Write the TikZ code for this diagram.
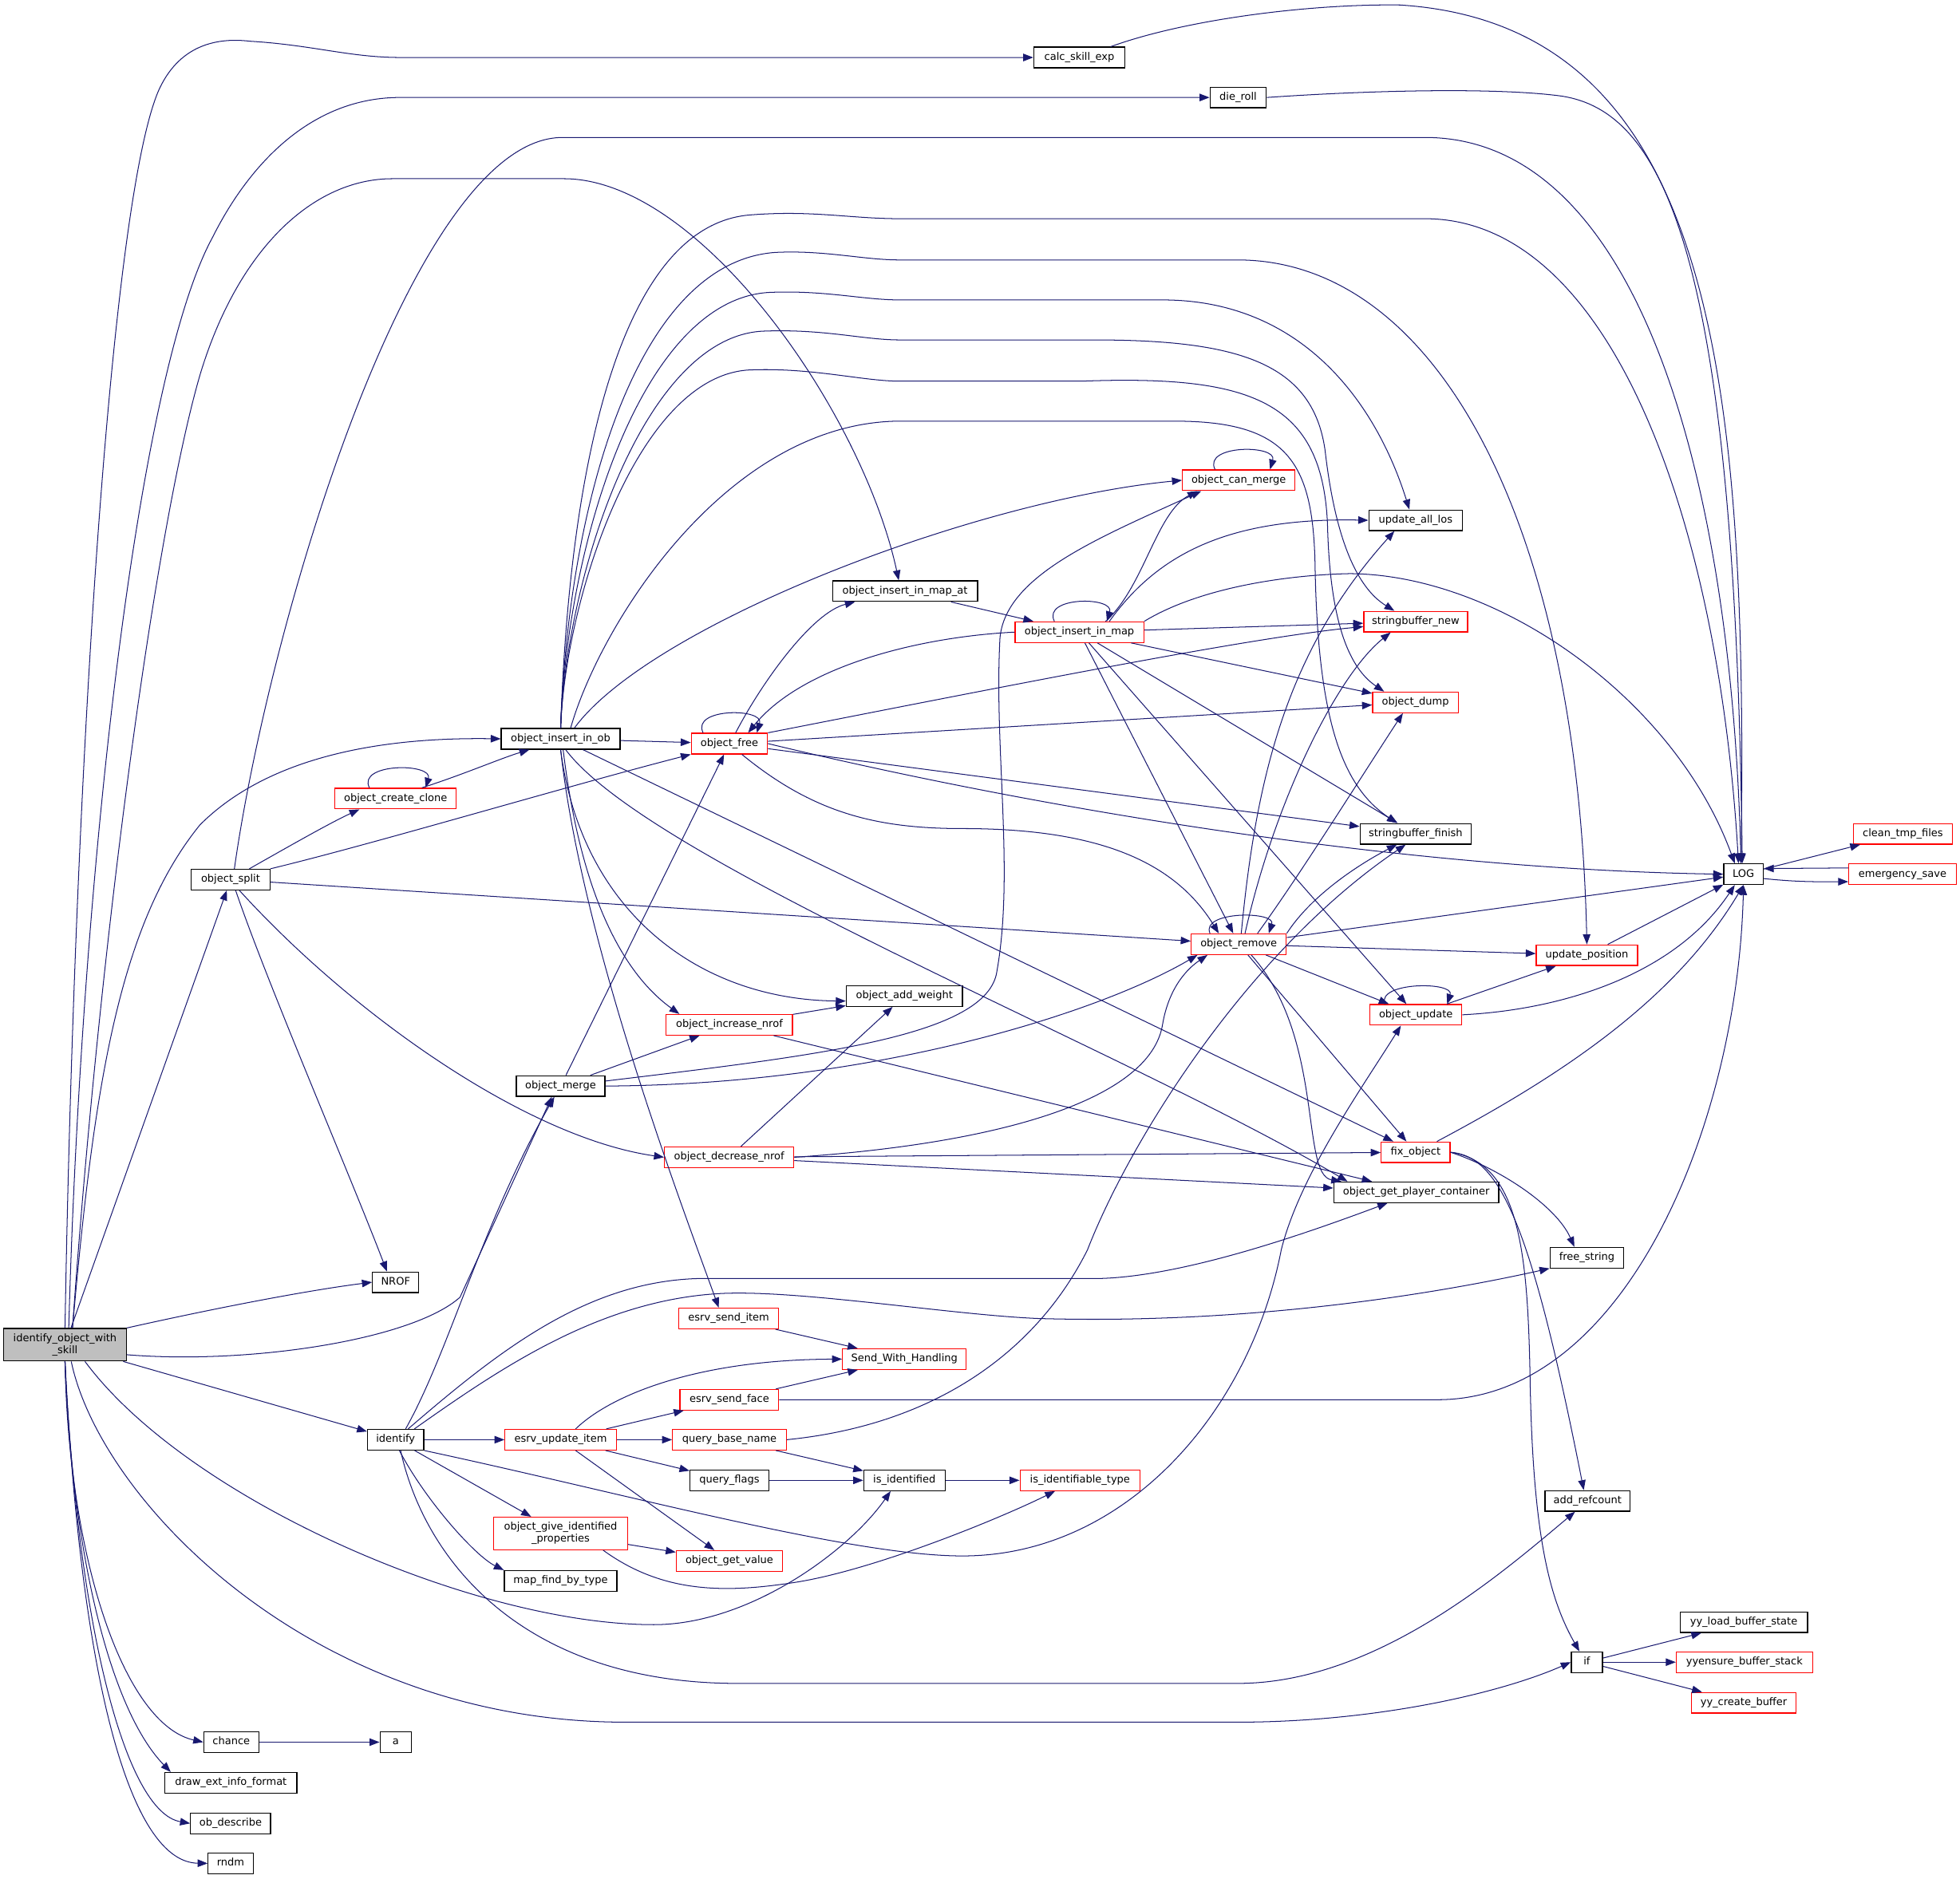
\documentclass[tikz,border=0pt]{standalone}
\usepackage{fontspec}
\setmainfont{DejaVu Sans}
\usetikzlibrary{arrows.meta}
\definecolor{callblue}{HTML}{191970}

\begin{document}
\begin{tikzpicture}[x=1pt,y=-1pt,
    fn/.style={draw=black,line width=0.8pt,fill=white,minimum height=16.5pt,inner sep=0pt,
      font=\fontsize{8.3}{9.8}\selectfont,text height=6.2pt,text depth=1.8pt},
    fnred/.style={fn,draw=red},
    fntwo/.style={draw=black,line width=0.8pt,fill=white,minimum height=26pt,inner sep=0pt,
      font=\fontsize{8.3}{9.8}\selectfont,align=center},
    calls/.style={draw=callblue,line width=0.65pt,-{Triangle[length=8pt,width=6pt]}}]
    \useasboundingbox (0,0) rectangle (1568,1503);
    \fill[white] (0,0) rectangle (1568,1503);

    \node[fntwo,fill=black!25,minimum width=98pt] (main) at (52,1076) {identify\_object\_with\\\_skill};
    \node[fn,minimum width=73pt] (calc) at (863.5,46) {calc\_skill\_exp};
    \node[fn,minimum width=45pt] (dieroll) at (990.5,78) {die\_roll};
    \node[fnred,minimum width=90pt] (canmerge) at (991,384.3) {object\_can\_merge};
    \node[fn,minimum width=116pt] (inmapat) at (724,473) {object\_insert\_in\_map\_at};
    \node[fnred,minimum width=103pt] (inmap) at (863.5,505.8) {object\_insert\_in\_map};
    \node[fn,minimum width=75pt] (allos) at (1132.5,416.3) {update\_all\_los};
    \node[fnred,minimum width=83pt] (sbnew) at (1132.5,497.4) {stringbuffer\_new};
    \node[fnred,minimum width=68.5pt] (dump) at (1132.3,562) {object\_dump};
    \node[fn,minimum width=95pt] (inob) at (448.5,591.2) {object\_insert\_in\_ob};
    \node[fnred,minimum width=61pt] (free) at (583.5,595) {object\_free};
    \node[fnred,minimum width=97pt] (clone) at (316.5,639) {object\_create\_clone};
    \node[fn,minimum width=89pt] (sbfinish) at (1132.5,667.2) {stringbuffer\_finish};
    \node[fnred,minimum width=79.4pt] (cleantmp) at (1522.3,667.2) {clean\_tmp\_files};
    \node[fn,minimum width=31.6pt] (LOG) at (1394.8,699.5) {LOG};
    \node[fnred,minimum width=86pt] (emsave) at (1522,699.5) {emergency\_save};
    \node[fn,minimum width=63pt] (split) at (184.5,703.8) {object\_split};
    \node[fnred,minimum width=76pt] (remove) at (991,755.5) {object\_remove};
    \node[fnred,minimum width=81pt] (updpos) at (1269.5,764.3) {update\_position};
    \node[fn,minimum width=93pt] (addw) at (723.5,797) {object\_add\_weight};
    \node[fnred,minimum width=73.5pt] (update) at (1132.7,812) {object\_update};
    \node[fnred,minimum width=101pt] (incnrof) at (583.5,820) {object\_increase\_nrof};
    \node[fn,minimum width=71pt] (merge) at (448.5,869) {object\_merge};
    \node[fnred,minimum width=55pt] (fixobj) at (1132.5,922) {fix\_object};
    \node[fnred,minimum width=103.4pt] (decnrof) at (583.3,926) {object\_decrease\_nrof};
    \node[fn,minimum width=132pt] (getpc) at (1133,954) {object\_get\_player\_container};
    \node[fn,minimum width=59pt] (freestr) at (1269.5,1006.3) {free\_string};
    \node[fn,minimum width=37pt] (NROF) at (316.5,1026) {NROF};
    \node[fnred,minimum width=80pt] (senditem) at (583,1055) {esrv\_send\_item};
    \node[fnred,minimum width=99pt] (swh) at (723.5,1087.5) {Send\_With\_Handling};
    \node[fnred,minimum width=79pt] (sendface) at (583.5,1120) {esrv\_send\_face};
    \node[fn,minimum width=45pt] (identify) at (316.5,1152) {identify};
    \node[fnred,minimum width=89pt] (updateitem) at (448.5,1152) {esrv\_update\_item};
    \node[fnred,minimum width=91pt] (basename) at (583.5,1152) {query\_base\_name};
    \node[fn,minimum width=63pt] (qflags) at (583.5,1184.5) {query\_flags};
    \node[fn,minimum width=65pt] (isid) at (723.5,1184.5) {is\_identified};
    \node[fnred,minimum width=96pt] (isidtype) at (864,1184.5) {is\_identifiable\_type};
    \node[fn,minimum width=68pt] (addref) at (1270,1201) {add\_refcount};
    \node[fntwo,draw=red,minimum width=107pt] (giveprops) at (448.5,1227) {object\_give\_identified\\\_properties};
    \node[fnred,minimum width=85pt] (getvalue) at (583.5,1249) {object\_get\_value};
    \node[fn,minimum width=90pt] (mapfind) at (448.5,1265) {map\_find\_by\_type};
    \node[fn,minimum width=102pt] (yyload) at (1395,1298) {yy\_load\_buffer\_state};
    \node[fn,minimum width=25pt] (if) at (1269.5,1330) {if};
    \node[fnred,minimum width=109pt] (yyensure) at (1395.5,1330) {yyensure\_buffer\_stack};
    \node[fnred,minimum width=84pt] (yycreate) at (1395,1362.5) {yy\_create\_buffer};
    \node[fn,minimum width=44pt] (chance) at (185,1394) {chance};
    \node[fn,minimum width=25pt] (a) at (316.5,1394) {a};
    \node[fn,minimum width=105.5pt] (drawext) at (184.7,1426.5) {draw\_ext\_info\_format};
    \node[fn,minimum width=64pt] (obdescribe) at (184.5,1459) {ob\_describe};
    \node[fn,minimum width=36pt] (rndm) at (184.5,1491) {rndm};

    \draw[calls] (main.north) .. controls (60,600) and (90,150) .. (128,70) .. controls (145,35) and (175,30) .. (200,33) .. controls (250,36) and (280,46) .. (320,46) -- (calc);
    \draw[calls] ([xshift=3pt]main.north) .. controls (65,700) and (110,300) .. (170,190) .. controls (200,130) and (250,78) .. (320,78) -- (dieroll);
    \draw[calls] ([xshift=6pt]main.north) .. controls (80,750) and (125,420) .. (160,300) .. controls (190,200) and (250,143) .. (314,143) -- (451,143) .. controls (560,143) and (690,330) .. ([xshift=-5pt]inmapat.north);
    \draw[calls] ([xshift=6pt]main.north) .. controls (75,870) and (95,740) .. (160,660) .. controls (220,600) and (320,590) .. (inob.west);
    \draw[calls] (main) -- (split);
    \draw[calls] (main.north east) .. controls (180,1045) and (250,1032) .. (NROF.west);
    \draw[calls] ([yshift=-8pt]main.east) .. controls (200,1092) and (330,1072) .. (368,1038) -- ([xshift=-7pt]merge.south);
    \draw[calls] (main) -- (identify);
    \draw[calls] ([xshift=16pt]main.south) .. controls (150,1200) and (380,1300) .. (523,1300) .. controls (600,1300) and (680,1240) .. ([xshift=-11pt]isid.south);
    \draw[calls] ([xshift=5pt]main.south) .. controls (80,1200) and (250,1378) .. (500,1378) -- (990,1378) .. controls (1100,1378) and (1200,1355) .. (if.west);
    \draw[calls] (main.south) .. controls (55,1250) and (100,1380) .. (chance.west);
    \draw[calls] (main.south) .. controls (58,1250) and (90,1370) .. ([xshift=5pt]drawext.north west);
    \draw[calls] (main.south) .. controls (62,1300) and (100,1450) .. (obdescribe.west);
    \draw[calls] (main.south) .. controls (65,1350) and (105,1490) .. (rndm.west);
    \draw[calls] (chance) -- (a);

    \draw[calls] ([xshift=3pt]split.north) .. controls (215,500) and (330,110) .. (450,110) -- (1140,110) .. controls (1310,110) and (1385,380) .. ([xshift=-2pt]LOG.north);
    \draw[calls] ([xshift=15pt]split.north) .. controls (235,675) and (265,658) .. ([xshift=-29pt]clone.south);
    \draw[calls] (split.north east) .. controls (300,675) and (450,630) .. (free.south west);
    \draw[calls] (split) -- (remove);
    \draw[calls] ([xshift=7pt]split.south) .. controls (280,810) and (420,910) .. (decnrof.west);
    \draw[calls] ([xshift=4pt]split.south) .. controls (215,790) and (280,940) .. ([xshift=-7pt]NROF.north);

    \draw[calls] ([xshift=-21pt]clone.north) .. controls +(-10,-20) and +(6,-20) .. ([xshift=24pt]clone.north);
    \draw[calls] ([xshift=21pt]clone.north) .. controls (370,620) and (400,607) .. ([xshift=-25pt]inob.south);

    \draw[calls] (inob) -- (free);
    \draw[calls] ([xshift=11pt]inob.north) .. controls (520,500) and (780,400) .. (canmerge.west);
    \draw[calls] (inob.north) .. controls (456,360) and (500,180) .. (600,172) .. controls (650,168) and (680,175) .. (720,175) -- (1140,175) .. controls (1290,175) and (1375,420) .. ([xshift=-4pt]LOG.north);
    \draw[calls] (inob.north) .. controls (455,400) and (510,210) .. (620,202) .. controls (660,200) and (690,208) .. (720,208) -- (990,208) .. controls (1150,208) and (1262,420) .. (updpos.north);
    \draw[calls] (inob.north) .. controls (454,430) and (515,240) .. (615,234) .. controls (660,232) and (690,240) .. (720,240) -- (930,240) .. controls (1040,240) and (1100,320) .. ([xshift=-5pt]allos.north);
    \draw[calls] (inob.north) .. controls (453,460) and (515,270) .. (610,265) .. controls (660,263) and (690,272) .. (720,272) -- (875,272) .. controls (990,272) and (1050,290) .. (1060,360) .. controls (1068,430) and (1085,470) .. ([xshift=-17pt]sbnew.north);
    \draw[calls] (inob.north) .. controls (452,480) and (510,300) .. (600,296) .. controls (650,294) and (690,305) .. (720,305) -- (865,305) .. controls (1000,300) and (1058,320) .. (1062,420) .. controls (1064,500) and (1080,535) .. ([xshift=-25pt]dump.north);
    \draw[calls] ([xshift=8pt]inob.north) .. controls (480,500) and (580,340) .. (717,337) -- (940,337) .. controls (1030,337) and (1050,370) .. (1052,450) .. controls (1054,580) and (1075,630) .. ([xshift=-15pt]sbfinish.north);
    \draw[calls] (inob.south) .. controls (465,730) and (560,800) .. ([yshift=-4pt]addw.west);
    \draw[calls] ([xshift=2pt]inob.south) .. controls (465,720) and (500,780) .. ([xshift=-40pt]incnrof.north);
    \draw[calls] (inob) -- (fixobj);
    \draw[calls] ([xshift=4pt]inob.south) .. controls (520,690) and (900,840) .. ([xshift=-55pt]getpc.north);
    \draw[calls] (inob.south) .. controls (465,750) and (540,950) .. ([xshift=-8pt]senditem.north);

    \draw[calls] ([xshift=-21pt]free.north) .. controls +(-10,-20) and +(6,-20) .. ([xshift=22pt]free.north);
    \draw[calls] ([xshift=5pt]free.north) .. controls (610,545) and (650,490) .. ([xshift=-40pt]inmapat.south);
    \draw[calls] (free.north east) .. controls (800,550) and (1000,510) .. ([yshift=-4pt]sbnew.west);
    \draw[calls] (free) -- (dump);
    \draw[calls] (free) -- (sbfinish);
    \draw[calls] (free.east) .. controls (800,640) and (1100,695) .. (LOG.west);
    \draw[calls] ([xshift=10pt]free.south) .. controls (650,650) and (700,663) .. (770,663) .. controls (880,663) and (940,690) .. ([xshift=-16pt]remove.north);

    \draw[calls] (inmapat) -- (inmap);
    \draw[calls] ([xshift=-20pt]inmap.north) .. controls +(-10,-20) and +(6,-20) .. ([xshift=22pt]inmap.north);
    \draw[calls] (inmap.west) .. controls (730,510) and (640,535) .. ([xshift=15pt]free.north);
    \draw[calls] ([xshift=21pt]inmap.north) .. controls (915,470) and (925,410) .. ([xshift=-33pt]canmerge.south);
    \draw[calls] ([xshift=24pt]inmap.north) .. controls (925,445) and (980,414) .. (allos.west);
    \draw[calls] (inmap.north east) .. controls (960,470) and (1030,460) .. (1080,459) .. controls (1200,460) and (1340,560) .. ([xshift=-7pt]LOG.north);
    \draw[calls] (inmap) -- (sbnew);
    \draw[calls] (inmap) -- (dump);
    \draw[calls] (inmap) -- (sbfinish);
    \draw[calls] (inmap) -- (remove);
    \draw[calls] (inmap) -- (update);

    \draw[calls] ([xshift=-19pt]canmerge.north) .. controls +(-10,-20) and +(6,-20) .. ([xshift=25pt]canmerge.north);

    \draw[calls] (merge) -- (free);
    \draw[calls] (merge) -- (incnrof);
    \draw[calls] ([yshift=4pt]merge.east) .. controls (650,845) and (785,830) .. (797,780) .. controls (812,700) and (795,600) .. (800,510) .. controls (805,460) and (880,430) .. ([xshift=-30pt]canmerge.south);
    \draw[calls] (merge.east) .. controls (700,868) and (880,810) .. ([xshift=-33pt]remove.south);

    \draw[calls] (incnrof) -- (addw);
    \draw[calls] (incnrof) -- (getpc);
    \draw[calls] (decnrof) -- (addw);
    \draw[calls] (decnrof.east) .. controls (800,915) and (920,880) .. (930,820) .. controls (935,790) and (950,775) .. ([xshift=-25pt]remove.south);
    \draw[calls] (decnrof) -- (fixobj);
    \draw[calls] (decnrof) -- (getpc);

    \draw[calls] ([xshift=-23pt]remove.north) .. controls +(-8,-18) and +(6,-18) .. ([xshift=24pt]remove.north);
    \draw[calls] ([xshift=2pt]remove.north) .. controls (1005,620) and (1030,520) .. ([xshift=-17pt]allos.south);
    \draw[calls] ([xshift=5pt]remove.north) .. controls (1020,640) and (1070,540) .. ([xshift=-20pt]sbnew.south);
    \draw[calls] ([xshift=15pt]remove.north) .. controls (1040,700) and (1090,620) .. ([xshift=-10pt]dump.south);
    \draw[calls] (remove.north east) .. controls (1050,715) and (1090,690) .. ([xshift=-15pt]sbfinish.south);
    \draw[calls] (remove) -- (LOG);
    \draw[calls] (remove) -- (updpos);
    \draw[calls] (remove) -- (update);
    \draw[calls] (remove) -- (fixobj);
    \draw[calls] ([xshift=10pt]remove.south) .. controls (1060,830) and (1040,940) .. ([xshift=-60pt]getpc.north);

    \draw[calls] ([xshift=-25pt]update.north) .. controls +(-6,-18) and +(6,-18) .. ([xshift=25pt]update.north);
    \draw[calls] (update) -- (updpos);
    \draw[calls] (update.east) .. controls (1250,808) and (1340,780) .. ([xshift=-7pt]LOG.south);
    \draw[calls] (updpos) -- (LOG);

    \draw[calls] ([xshift=17pt]fixobj.north) .. controls (1250,860) and (1340,800) .. (LOG.south);
    \draw[calls] (fixobj.east) .. controls (1200,935) and (1245,965) .. ([xshift=-10pt]freestr.north);
    \draw[calls] (fixobj.east) .. controls (1200,925) and (1225,980) .. ([xshift=-3pt]addref.north);
    \draw[calls] (fixobj.east) .. controls (1215,930) and (1222,1000) .. (1224,1100) .. controls (1226,1230) and (1240,1280) .. ([xshift=-6pt]if.north);

    \draw[calls] ([xshift=8pt]identify.north) .. controls (360,1080) and (385,980) .. ([xshift=-5pt]merge.south);
    \draw[calls] ([xshift=10pt]identify.north) .. controls (400,1080) and (470,1025) .. (560,1023) -- (880,1023) .. controls (950,1021) and (1050,985) .. ([xshift=-23pt]getpc.south);
    \draw[calls] ([xshift=15pt]identify.north) .. controls (400,1095) and (480,1040) .. (577,1035) .. controls (640,1032) and (760,1052) .. (830,1055) .. controls (1000,1060) and (1150,1035) .. (freestr.south west);
    \draw[calls] (identify) -- (updateitem);
    \draw[calls] (identify) -- (giveprops);
    \draw[calls] ([xshift=3pt]identify.south) .. controls (340,1200) and (380,1245) .. (mapfind.north west);
    \draw[calls] (identify.south east) .. controls (500,1195) and (680,1245) .. (770,1245) .. controls (900,1245) and (1000,1130) .. (1025,1000) .. controls (1040,940) and (1090,870) .. ([xshift=-12pt]update.south);
    \draw[calls] ([xshift=4pt]identify.south) .. controls (340,1250) and (420,1347) .. (590,1347) -- (990,1347) .. controls (1100,1347) and (1200,1260) .. ([xshift=-10pt]addref.south);

    \draw[calls] ([xshift=12pt]updateitem.north) .. controls (490,1115) and (560,1088) .. (swh.west);
    \draw[calls] (updateitem) -- (sendface);
    \draw[calls] (updateitem) -- (basename);
    \draw[calls] (updateitem) -- (qflags);
    \draw[calls] (updateitem) -- (getvalue);
    \draw[calls] (senditem) -- (swh);
    \draw[calls] (sendface) -- (swh);
    \draw[calls] (sendface.east) -- (1150,1120) .. controls (1300,1120) and (1390,900) .. (LOG.south);
    \draw[calls] (basename) -- (isid);
    \draw[calls] (basename.east) .. controls (750,1140) and (830,1080) .. (870,1000) .. controls (905,910) and (1000,760) .. ([xshift=-8pt]sbfinish.south);
    \draw[calls] (qflags) -- (isid);
    \draw[calls] (isid) -- (isidtype);
    \draw[calls] (giveprops) -- (getvalue);
    \draw[calls] ([xshift=34pt]giveprops.south) .. controls (530,1275) and (580,1275) .. (637,1266) .. controls (700,1256) and (800,1215) .. ([xshift=-20pt]isidtype.south);

    \draw[calls] ([xshift=25pt]calc.north) .. controls (950,15) and (1050,3) .. (1120,4) .. controls (1370,20) and (1398,300) .. ([xshift=-2pt]LOG.north);
    \draw[calls] (dieroll.east) .. controls (1100,72) and (1200,70) .. (1250,77) .. controls (1330,90) and (1388,200) .. ([xshift=-1pt]LOG.north);
    \draw[calls] (LOG) -- (cleantmp);
    \draw[calls] ([yshift=-3.5pt]LOG.east) .. controls (1440,706) and (1455,705.5) .. ([yshift=-6pt]emsave.west);
    \draw[calls] ([yshift=5pt]emsave.west) -- ([yshift=4.5pt]LOG.east);
    \draw[calls] (if) -- (yyload);
    \draw[calls] (if) -- (yyensure);
    \draw[calls] (if) -- (yycreate);
\end{tikzpicture}
\end{document}
